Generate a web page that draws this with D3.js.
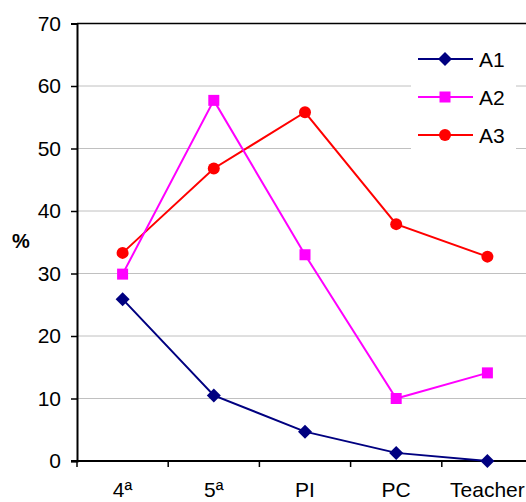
<!DOCTYPE html>
<html>
<head>
<meta charset="utf-8">
<script src="https://cdn.jsdelivr.net/npm/d3@7"></script>
<style>
  html, body { margin: 0; padding: 0; background: #fff; }
  svg { display: block; font-family: "Liberation Sans", Arial, sans-serif; }
</style>
</head>
<body>
<svg id="chart" width="526" height="502"></svg>
<script>
// Categories along the x axis
const categories = ["4ª", "5ª", "PI", "PC", "Teacher"];
// Percentages per group
const seriesA1 = [25.9, 10.5, 4.7, 1.3, 0];
const seriesA2 = [29.9, 57.7, 33.0, 10.0, 14.1];
const seriesA3 = [33.3, 46.8, 55.8, 37.9, 32.7];
const seriesNames = ["A1", "A2", "A3"];
const yTicks = [0, 10, 20, 30, 40, 50, 60, 70];

const series = [
  { name: seriesNames[0], values: seriesA1, color: "#000080", shape: "diamond" },
  { name: seriesNames[1], values: seriesA2, color: "#ff00ff", shape: "square" },
  { name: seriesNames[2], values: seriesA3, color: "#ff0000", shape: "circle" }
];

const svg = d3.select("#chart");
const plotLeft = 77, plotRight = 533, plotTop = 23.5, plotBottom = 461;

const x = d3.scaleBand().domain(categories).range([plotLeft, plotRight]);
const y = d3.scaleLinear().domain([0, 70]).range([plotBottom, plotTop]);

// Horizontal gridlines
svg.append("g")
  .selectAll("line")
  .data(yTicks.filter(t => t > 0 && t < 70))
  .join("line")
  .attr("x1", plotLeft).attr("x2", plotRight)
  .attr("y1", d => y(d)).attr("y2", d => y(d))
  .attr("stroke", "#c0c0c0").attr("stroke-width", 1);

// Top border of plot area
svg.append("line")
  .attr("x1", plotLeft).attr("x2", plotRight)
  .attr("y1", y(70)).attr("y2", y(70))
  .attr("stroke", "#000").attr("stroke-width", 1.5);

// Y axis
const yAxis = d3.axisLeft(y).tickValues(yTicks).tickSize(6).tickPadding(10);
const gy = svg.append("g").attr("transform", `translate(${plotLeft},0)`).call(yAxis);
gy.select(".domain").attr("stroke-width", 2);
gy.selectAll(".tick line").attr("stroke-width", 1.5);
gy.selectAll("text").attr("font-size", 21).attr("fill", "#000")
  .style("font-family", "'Liberation Sans', Arial, sans-serif");

// X axis with ticks at category boundaries
const gx = svg.append("g").attr("transform", `translate(0,${plotBottom})`);
gx.append("line").attr("x1", plotLeft - 6).attr("x2", plotRight)
  .attr("y1", 0).attr("y2", 0).attr("stroke", "#000").attr("stroke-width", 2);
gx.selectAll(".xt")
  .data(categories)
  .join("line")
  .attr("class", "xt")
  .attr("x1", d => x(d)).attr("x2", d => x(d))
  .attr("y1", 0).attr("y2", 6)
  .attr("stroke", "#000").attr("stroke-width", 1.5);
gx.selectAll("text")
  .data(categories)
  .join("text")
  .attr("x", d => x(d) + x.bandwidth() / 2)
  .attr("y", 36)
  .attr("text-anchor", "middle")
  .attr("font-size", 21)
  .attr("fill", "#000")
  .text(d => d);

// Y axis title
svg.append("text")
  .attr("x", 21).attr("y", 248)
  .attr("text-anchor", "middle")
  .attr("font-size", 20).attr("font-weight", "bold")
  .text("%");

// Marker drawing helper
function drawMarker(sel, shape, color) {
  if (shape === "diamond") {
    sel.append("path").attr("d", "M0,-7L7,0L0,7L-7,0Z").attr("fill", color);
  } else if (shape === "square") {
    sel.append("rect").attr("x", -5.5).attr("y", -5.5).attr("width", 11).attr("height", 11).attr("fill", color);
  } else {
    sel.append("circle").attr("r", 6).attr("fill", color);
  }
}

const line = d3.line()
  .x((d, i) => x(categories[i]) + x.bandwidth() / 2)
  .y(d => y(d));

// Series lines and markers (A3 first so A1 sits on top)
series.slice().reverse().forEach(s => {
  const g = svg.append("g");
  g.append("path").datum(s.values)
    .attr("d", line).attr("fill", "none")
    .attr("stroke", s.color).attr("stroke-width", 2);
  s.values.forEach((v, i) => {
    const m = g.append("g")
      .attr("transform", `translate(${x(categories[i]) + x.bandwidth() / 2},${y(v)})`);
    drawMarker(m, s.shape, s.color);
  });
});

// Legend
const legend = svg.append("g");
legend.append("rect").attr("x", 411).attr("y", 36).attr("width", 105).attr("height", 124).attr("fill", "#fff");
series.forEach((s, i) => {
  const ly = 59 + i * 38;
  const g = legend.append("g");
  g.append("line").attr("x1", 418).attr("x2", 473).attr("y1", ly).attr("y2", ly)
    .attr("stroke", s.color).attr("stroke-width", 2);
  const m = g.append("g").attr("transform", `translate(445,${ly})`);
  drawMarker(m, s.shape, s.color);
  g.append("text").attr("x", 479).attr("y", ly + 7.5)
    .attr("font-size", 21).attr("fill", "#000").text(s.name);
});
</script>
</body>
</html>
